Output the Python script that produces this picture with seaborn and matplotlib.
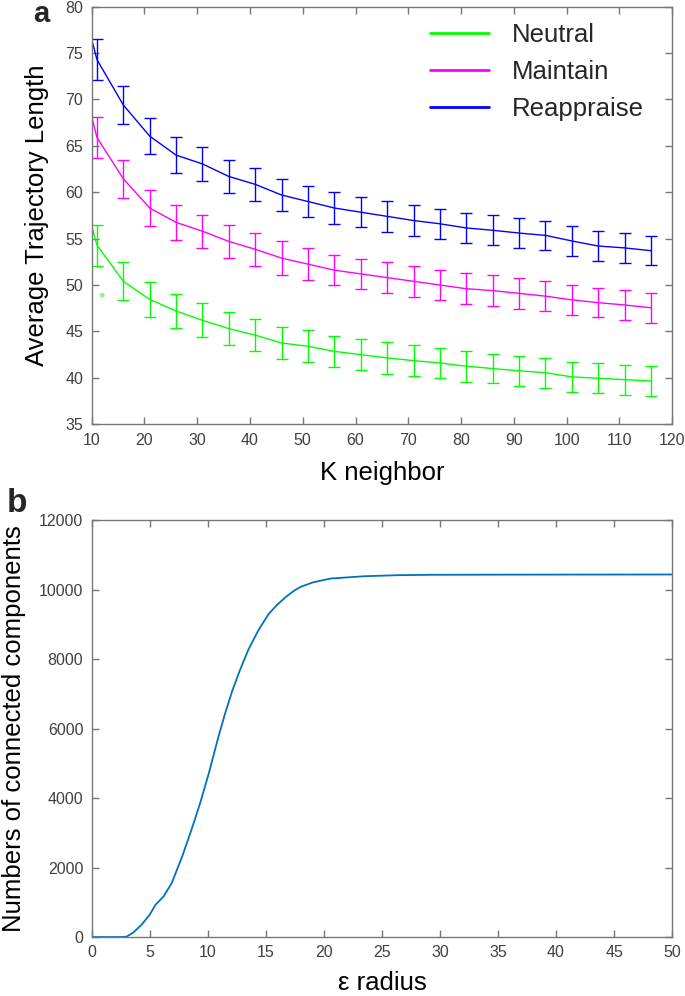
import matplotlib
matplotlib.use("Agg")
import matplotlib.pyplot as plt
import seaborn as sns
import pandas as pd
import numpy as np

# ---------------- data: panel a ----------------
k_line = [10, 11, 16, 21, 26, 31, 36, 41, 46, 51, 56, 61, 66, 71, 76, 81, 86, 91, 96, 101, 106, 111, 116]
k_bar = [11, 16, 21, 26, 31, 36, 41, 46, 51, 56, 61, 66, 71, 76, 81, 86, 91, 96, 101, 106, 111, 116]

neutral_mean = [56.4, 54.3, 50.4, 48.45, 47.2, 46.2, 45.3, 44.6, 43.75, 43.4, 42.85, 42.5, 42.15,
                41.85, 41.6, 41.25, 41.0, 40.75, 40.55, 40.1, 39.95, 39.8, 39.65]
neutral_err = [2.2, 2.05, 1.9, 1.85, 1.85, 1.8, 1.75, 1.7, 1.7, 1.7, 1.7, 1.7, 1.65, 1.65, 1.65,
               1.6, 1.6, 1.6, 1.6, 1.6, 1.6, 1.6]
maintain_mean = [68.2, 65.9, 61.45, 58.3, 56.75, 55.8, 54.7, 53.85, 52.9, 52.25, 51.6, 51.2, 50.8,
                 50.4, 50.0, 49.6, 49.4, 49.1, 48.8, 48.4, 48.1, 47.85, 47.55]
maintain_err = [2.2, 2.05, 1.9, 1.85, 1.8, 1.8, 1.75, 1.8, 1.7, 1.65, 1.65, 1.65, 1.7, 1.65, 1.65,
                1.65, 1.65, 1.6, 1.65, 1.6, 1.6, 1.6]
reappraise_mean = [76.5, 74.3, 69.4, 66.05, 64.0, 63.05, 61.7, 60.85, 59.7, 59.0, 58.3, 57.85, 57.4,
                   56.95, 56.6, 56.15, 55.9, 55.6, 55.35, 54.75, 54.2, 54.0, 53.7]
reappraise_err = [2.2, 2.0, 1.95, 1.9, 1.85, 1.8, 1.75, 1.7, 1.7, 1.7, 1.65, 1.7, 1.65, 1.6, 1.65,
                  1.6, 1.6, 1.55, 1.65, 1.6, 1.6, 1.55]
stray_k = [12.0]
stray_val = [48.9]

series_names = ["Neutral", "Maintain", "Reappraise"]
series_colors = ["#00FF00", "#FF00FF", "#0000FF"]

# ---------------- data: panel b ----------------
eps = [0, 1, 2, 2.5, 3.0, 3.6, 4.3, 5.0, 5.5, 6.2, 6.9, 7.8, 8.6, 9.35, 10.1, 10.9, 11.5, 12.1, 12.7,
       13.5, 14.4, 15.25, 16.0, 16.7, 17.4, 18.0, 19.1, 20.6, 23.5, 26.3, 29.2, 35, 40, 45, 50]
components = [0, 0, 0, 0, 10, 133, 354, 642, 930, 1169, 1555, 2321, 3090, 3859, 4723, 5740, 6440,
              7073, 7620, 8274, 8850, 9300, 9570, 9781, 9960, 10080, 10212, 10319, 10385, 10414,
              10426, 10430, 10432, 10433, 10435]

# ---------------- style ----------------
sns.set_theme(style="white")
plt.rcParams["font.family"] = ["Liberation Sans", "DejaVu Sans"]
spine_col = "#777777"
tick_col = "#404040"

fig = plt.figure(figsize=(6.85, 9.96), dpi=100)
ax1 = fig.add_axes([0.1338, 0.5741, 0.8474, 0.4192])
ax2 = fig.add_axes([0.1338, 0.0592, 0.8474, 0.4186])

# panel a lines
rows = []
for name, vals in zip(series_names, [neutral_mean, maintain_mean, reappraise_mean]):
    for k, v in zip(k_line, vals):
        rows.append({"K": k, "val": v, "cond": name})
df_a = pd.DataFrame(rows)
sns.lineplot(data=df_a, x="K", y="val", hue="cond", hue_order=series_names,
             palette=series_colors, linewidth=1.0, ax=ax1, legend=True)
for vals, errs, col in zip([neutral_mean, maintain_mean, reappraise_mean],
                           [neutral_err, maintain_err, reappraise_err], series_colors):
    ax1.errorbar(k_bar, vals[1:], yerr=errs, fmt="none", ecolor=col, elinewidth=1.0,
                 capsize=4.3, capthick=1.0)
sns.scatterplot(x=stray_k, y=stray_val, color="#90EE90", s=12, edgecolor="none", ax=ax1,
                legend=False)

ax1.set_xlim(10, 120)
ax1.set_ylim(35, 80)
ax1.set_xticks([10, 20, 30, 40, 50, 60, 70, 80, 90, 100, 110, 120])
ax1.set_yticks([35, 40, 45, 50, 55, 60, 65, 70, 75, 80])
ax1.set_xlabel("K neighbor", fontsize=18.5, labelpad=10)
ax1.set_ylabel("Average Trajectory Length", fontsize=18.5, labelpad=12)
leg = ax1.legend(frameon=False, fontsize=18.5, loc="upper right",
                 bbox_to_anchor=(0.98, 1.0), handlelength=2.3, handletextpad=0.9,
                 labelspacing=0.5, borderaxespad=0.25)
for line in leg.get_lines():
    line.set_linewidth(2.0)

# panel b
df_b = pd.DataFrame({"eps": eps, "n": components})
sns.lineplot(data=df_b, x="eps", y="n", color="#0072BD", linewidth=1.3, ax=ax2)
ax2.set_xlim(0, 50)
ax2.set_ylim(0, 12000)
ax2.set_xticks(list(range(0, 51, 5)))
ax2.set_yticks([0, 2000, 4000, 6000, 8000, 10000, 12000])
ax2.set_xlabel("ε radius", fontsize=18.5, labelpad=8)
ax2.set_ylabel("Numbers of connected components", fontsize=18.5, labelpad=9)

for ax in (ax1, ax2):
    for s in ax.spines.values():
        s.set_color(spine_col)
        s.set_linewidth(1.0)
    ax.tick_params(direction="in", length=5, width=1.0, color=spine_col, labelcolor=tick_col,
                   labelsize=11.5, top=True, right=True, bottom=True, left=True, pad=6)
    ax.xaxis.label.set_color("black")
    ax.yaxis.label.set_color("black")

fig.text(0.048, 0.9775, "a", fontsize=21, fontweight="bold", ha="left", va="baseline")
fig.text(0.010, 0.486, "b", fontsize=24, fontweight="bold", ha="left", va="baseline")

fig.savefig("out.png", dpi=100)
